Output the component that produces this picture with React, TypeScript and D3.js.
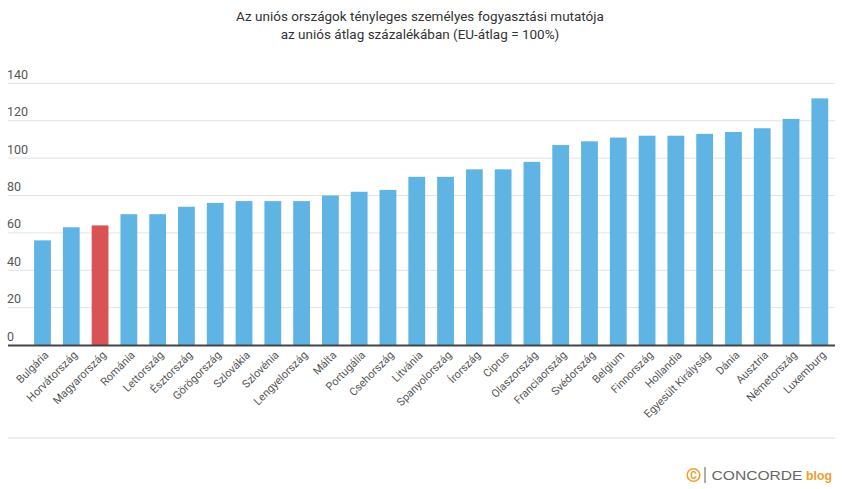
import React from "react";
import * as d3 from "d3";

const countries = [
  "Bulgária", "Horvátország", "Magyarország", "Románia", "Lettország", "Észtország",
  "Görögország", "Szlovákia", "Szlovénia", "Lengyelország", "Málta", "Portugália",
  "Csehország", "Litvánia", "Spanyolország", "Írország", "Ciprus", "Olaszország",
  "Franciaország", "Svédország", "Belgium", "Finnország", "Hollandia",
  "Egyesült Királyság", "Dánia", "Ausztria", "Németország", "Luxemburg",
];
const values = [
  56, 63, 64, 70, 70, 74, 76, 77, 77, 77, 80, 82, 83, 90, 90, 94, 94, 98,
  107, 109, 111, 112, 112, 113, 114, 116, 121, 132,
];
const highlighted = ["Magyarország"];
const yTicks = [0, 20, 40, 60, 80, 100, 120, 140];
const titleLines = [
  "Az uniós országok tényleges személyes fogyasztási mutatója",
  "az uniós átlag százalékában (EU-átlag = 100%)",
];

const W = 842;
const H = 489;
const FONT = "Roboto, 'Noto Sans', sans-serif";

export default function App() {
  const x = d3
    .scaleBand<string>()
    .domain(countries)
    .range([28.1, 834.2])
    .paddingInner(0.4165)
    .paddingOuter(0.2083);
  const y = d3.scaleLinear().domain([0, 140]).range([345, 83.4]);
  const gridLeft = 8;
  const gridRight = 835;

  return (
    <svg
      width={W}
      height={H}
      style={{ position: "absolute", left: 0, top: 0, background: "#fff" }}
      fontFamily={FONT}
    >
      <rect x={0} y={0} width={W} height={H} fill="#fff" />
      {titleLines.map((t, i) => (
        <text
          key={i}
          x={420}
          y={20.5 + i * 18}
          textAnchor="middle"
          fontSize={13.5}
          fill="#333"
        >
          {t}
        </text>
      ))}
      {yTicks.map((t) => (
        <g key={t}>
          {t !== 0 && (
            <line
              x1={gridLeft}
              x2={gridRight}
              y1={y(t)}
              y2={y(t)}
              stroke="#e2e2e2"
              strokeWidth={1}
            />
          )}
          <text x={7} y={y(t) - 4.5} fontSize={12.5} fill="#555">
            {t}
          </text>
        </g>
      ))}
      {countries.map((c, i) => (
        <rect
          key={c}
          x={x(c)}
          y={y(values[i])}
          width={x.bandwidth()}
          height={y(0) - y(values[i])}
          fill={highlighted.includes(c) ? "#d95354" : "#5fb4e3"}
        />
      ))}
      <line
        x1={gridLeft}
        x2={gridRight}
        y1={y(0) + 0.5}
        y2={y(0) + 0.5}
        stroke="#444"
        strokeWidth={2}
      />
      {countries.map((c) => {
        const cx = (x(c) as number) + x.bandwidth() / 2 + 4;
        return (
          <text
            key={c}
            transform={`translate(${cx},${353}) rotate(-45)`}
            textAnchor="end"
            fontSize={11}
            fill="#555"
            dy="0.35em"
          >
            {c}
          </text>
        );
      })}
      <line x1={gridLeft} x2={gridRight} y1={438} y2={438} stroke="#dcdcdc" strokeWidth={1} />
      <g>
        <circle cx={693.5} cy={475} r={6.3} fill="none" stroke="#f0a030" strokeWidth={1.6} />
        <text x={693.5} y={479} textAnchor="middle" fontSize={10} fontWeight="bold" fill="#f0a030">
          C
        </text>
        <line x1={705} x2={705} y1={467} y2={483} stroke="#777" strokeWidth={1.2} />
        <text
          x={711.5}
          y={479.5}
          fontSize={13.5}
          fill="#666"
          textLength={91}
          lengthAdjust="spacingAndGlyphs"
          fontFamily="'Liberation Sans', Arial, sans-serif"
        >
          CONCORDE
        </text>
        <text
          x={806}
          y={479.5}
          fontSize={13.5}
          fontWeight="bold"
          fill="#f0a030"
          textLength={26}
          lengthAdjust="spacingAndGlyphs"
          fontFamily="'Liberation Sans', Arial, sans-serif"
        >
          blog
        </text>
      </g>
    </svg>
  );
}
